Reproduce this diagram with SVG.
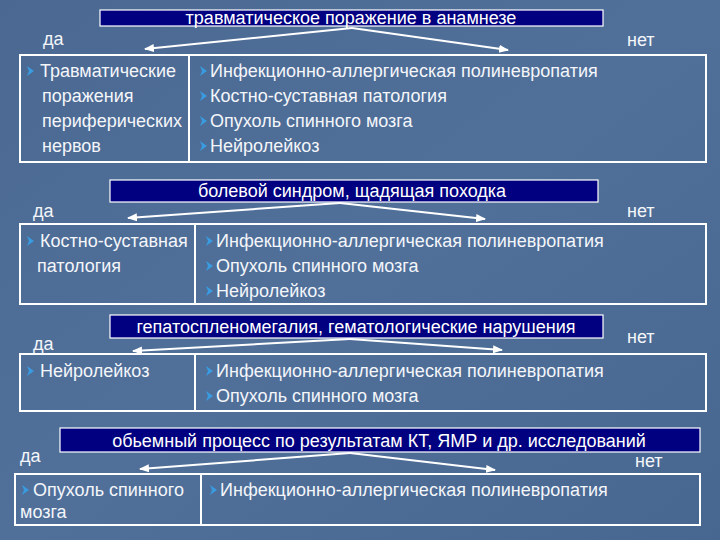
<svg xmlns="http://www.w3.org/2000/svg" width="720" height="540" viewBox="0 0 720 540">
<defs>
<linearGradient id="bg" x1="0" y1="0" x2="1" y2="1">
<stop offset="0" stop-color="#4a6892"/>
<stop offset="0.5" stop-color="#50709a"/>
<stop offset="1" stop-color="#476690"/>
</linearGradient>
<marker id="ah" viewBox="0 0 10 10" refX="9" refY="5" markerWidth="5" markerHeight="5" orient="auto">
<path d="M0,1 L10,5 L0,9 Z" fill="#ffffff"/>
</marker>
<path id="b" d="M0,-5 L7,0 L0,5 L2,0 Z" fill="#3a9be0"/>
</defs>
<style>
.t{font-family:"Liberation Sans",Arial,sans-serif;font-size:18px;fill:#f4f6fa}
.h{font-family:"Liberation Sans",Arial,sans-serif;font-size:18px;fill:#ffffff;text-anchor:middle}
.hb{fill:#000080;stroke:#ffffff;stroke-width:1.2}
.tb{fill:none;stroke:#ffffff;stroke-width:2}
.ar{stroke:#ffffff;stroke-width:2;fill:none;marker-end:url(#ah)}
</style>
<rect width="720" height="540" fill="url(#bg)"/>

<g id="q1">
<rect class="hb" x="100" y="10" width="503" height="16"/>
<text class="h" x="351" y="24">травматическое поражение в анамнезе</text>
</g>
<text class="t" x="43" y="45">да</text>
<text class="t" x="627" y="46">нет</text>
<g id="t1">
<rect class="tb" x="20" y="55" width="686" height="107"/>
<line class="tb" x1="189" y1="55" x2="189" y2="162"/>
<use href="#b" x="27" y="71"/>
<text class="t" x="40" y="77">Травматические</text>
<text class="t" x="42" y="102">поражения</text>
<text class="t" x="42" y="127">периферических</text>
<text class="t" x="42" y="152">нервов</text>
<use href="#b" x="200" y="71"/>
<text class="t" x="210" y="77">Инфекционно-аллергическая полиневропатия</text>
<use href="#b" x="200" y="96"/>
<text class="t" x="210" y="102">Костно-суставная патология</text>
<use href="#b" x="200" y="121"/>
<text class="t" x="210" y="127">Опухоль спинного мозга</text>
<use href="#b" x="200" y="146"/>
<text class="t" x="210" y="152">Нейролейкоз</text>
</g>

<g id="q2">
<rect class="hb" x="110" y="180" width="488" height="22"/>
<text class="h" x="352" y="197">болевой синдром, щадящая походка</text>
</g>
<text class="t" x="33" y="217">да</text>
<text class="t" x="627" y="217">нет</text>
<g id="t2">
<rect class="tb" x="20" y="224" width="686" height="80"/>
<line class="tb" x1="195" y1="224" x2="195" y2="304"/>
<use href="#b" x="27" y="241"/>
<text class="t" x="40" y="247">Костно-суставная</text>
<text class="t" x="37" y="272">патология</text>
<use href="#b" x="206" y="241"/>
<text class="t" x="216" y="247">Инфекционно-аллергическая полиневропатия</text>
<use href="#b" x="206" y="266"/>
<text class="t" x="216" y="272">Опухоль спинного мозга</text>
<use href="#b" x="206" y="291"/>
<text class="t" x="216" y="297">Нейролейкоз</text>
</g>

<g id="q3">
<rect class="hb" x="110" y="315" width="493" height="23"/>
<text class="h" x="356" y="333">гепатоспленомегалия, гематологические нарушения</text>
</g>
<text class="t" x="33" y="350">да</text>
<text class="t" x="627" y="343">нет</text>
<g id="t3">
<rect class="tb" x="20" y="354" width="686" height="57"/>
<line class="tb" x1="195" y1="354" x2="195" y2="411"/>
<use href="#b" x="27" y="371"/>
<text class="t" x="40" y="377">Нейролейкоз</text>
<use href="#b" x="206" y="371"/>
<text class="t" x="216" y="377">Инфекционно-аллергическая полиневропатия</text>
<use href="#b" x="206" y="396"/>
<text class="t" x="216" y="402">Опухоль спинного мозга</text>
</g>

<g id="q4">
<rect class="hb" x="60" y="428" width="640" height="24"/>
<text class="h" x="379" y="447">обьемный процесс по результатам КТ, ЯМР и др. исследований</text>
</g>
<text class="t" x="20" y="462">да</text>
<text class="t" x="635" y="467">нет</text>
<g id="t4">
<rect class="tb" x="15" y="474" width="685" height="51"/>
<line class="tb" x1="201" y1="474" x2="201" y2="525"/>
<use href="#b" x="22" y="490"/>
<text class="t" x="33" y="496">Опухоль спинного</text>
<text class="t" x="20" y="518">мозга</text>
<use href="#b" x="210" y="490"/>
<text class="t" x="220" y="496">Инфекционно-аллергическая полиневропатия</text>
</g>

<g id="connectors">
<line class="ar" x1="352" y1="28" x2="145" y2="49"/>
<line class="ar" x1="352" y1="28" x2="508" y2="50"/>
<line class="ar" x1="340" y1="203" x2="128" y2="218"/>
<line class="ar" x1="340" y1="203" x2="485" y2="219"/>
<line class="ar" x1="350" y1="339" x2="133" y2="351"/>
<line class="ar" x1="350" y1="339" x2="502" y2="350"/>
<line class="ar" x1="350" y1="453" x2="140" y2="469"/>
<line class="ar" x1="350" y1="453" x2="495" y2="470"/>
</g>
</svg>
